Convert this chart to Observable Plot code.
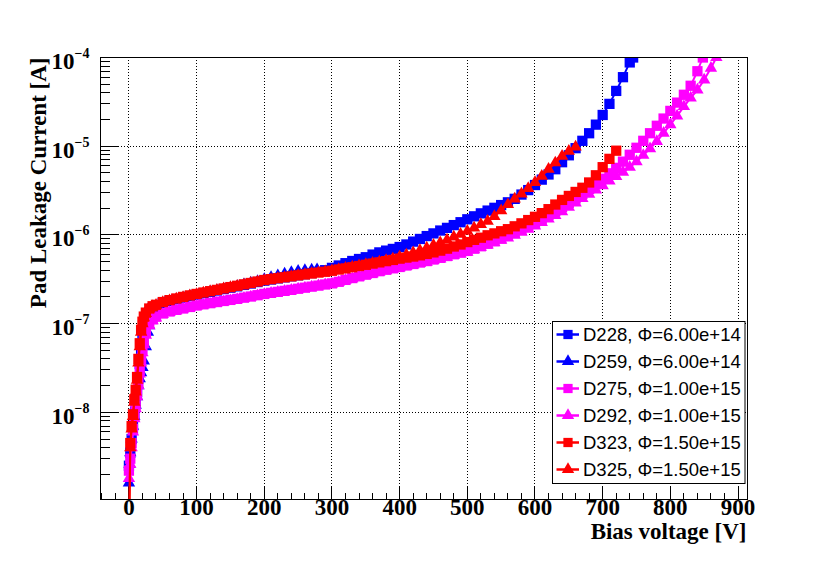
<!DOCTYPE html>
<html>
<head>
<meta charset="utf-8">
<script src="https://cdn.jsdelivr.net/npm/d3@7"></script>
<script src="https://cdn.jsdelivr.net/npm/@observablehq/plot@0.6"></script>
<style>
  html, body { margin: 0; padding: 0; background: #fff; }
  #chart { width: 830px; height: 567px; }
</style>
</head>
<body>
<div id="chart"></div>
<script>
// ---- Data: [bias voltage V, pad leakage current nA] ----
const d228 = [[0,2.5],[2,3.5],[4,5],[6,7],[8,9.5],[10,13],[12,17],[14,24],[16,35],[18,50],[20,70],[22,90],[25,112],[30,135],[35,150],[40,158],[50,170],[60,180],[70,188],[80,196],[90,204],[100,212],[110,220],[120,228],[130,236],[140,245],[150,254],[160,263],[170,273],[180,283],[190,294],[200,305],[210,314],[220,323],[230,332],[240,341],[250,350],[260,360],[270,371],[280,383],[290,400],[300,425],[310,452],[320,480],[330,508],[340,535],[350,560],[360,600],[370,635],[380,665],[390,695],[400,730],[410,780],[420,840],[430,900],[440,970],[450,1040],[460,1120],[470,1200],[480,1290],[490,1390],[500,1500],[510,1620],[520,1750],[530,1880],[540,2020],[550,2170],[560,2330],[570,2550],[580,2850],[590,3200],[600,3650],[610,4200],[620,4800],[630,5500],[640,6600],[650,7900],[660,9500],[670,11500],[680,14000],[690,17500],[700,22500],[710,30000],[720,42000],[730,60000],[740,88000],[745,100000]];
const d259 = [[0,1.6],[1,2.6],[2,3.5],[4,5],[6,7],[8,9],[10,12],[12,15],[14,20],[16,24],[18,28],[20,32],[22,38],[25,55],[28,80],[30,95],[35,125],[40,145],[50,165],[60,176],[70,185],[80,194],[90,202],[100,210],[110,218],[120,226],[130,235],[140,244],[150,253],[160,263],[170,274],[180,287],[190,300],[200,316],[210,332],[220,348],[230,363],[240,377],[250,389],[260,398],[270,404],[278,407]];
const d275 = [[0,2.2],[2,3],[4,4.5],[6,6.5],[8,9],[10,12],[12,16],[14,22],[16,30],[18,40],[20,52],[22,64],[25,80],[30,100],[35,112],[40,120],[50,130],[60,137],[70,143],[80,148],[90,154],[100,160],[110,165],[120,170],[130,175],[140,180],[150,185],[160,190],[170,196],[180,202],[190,209],[200,216],[210,222],[220,228],[230,234],[240,240],[250,247],[260,254],[270,261],[280,268],[290,276],[300,284],[310,296],[320,311],[330,326],[340,341],[350,356],[360,372],[370,390],[380,405],[390,420],[400,435],[410,452],[420,470],[430,488],[440,507],[450,528],[460,552],[470,578],[480,605],[490,632],[500,660],[510,700],[520,745],[530,795],[540,850],[550,910],[560,980],[570,1060],[580,1150],[590,1260],[600,1380],[610,1520],[620,1680],[630,1860],[640,2060],[650,2300],[660,2580],[670,2900],[680,3300],[690,3750],[700,4300],[710,4950],[720,5700],[730,6700],[740,8000],[750,9600],[760,11500],[770,14000],[780,17000],[790,20500],[800,25000],[810,31000],[820,38000],[830,48000],[840,70000],[848,100000]];
const d292 = [[0,1.8],[2,2.6],[4,4],[6,6],[8,8.5],[10,11],[12,15],[14,20],[16,27],[18,36],[20,47],[22,58],[25,74],[30,95],[35,108],[40,116],[50,127],[60,134],[70,140],[80,146],[90,151],[100,157],[110,162],[120,167],[130,172],[140,177],[150,182],[160,188],[170,194],[180,200],[190,207],[200,214],[210,220],[220,226],[230,232],[240,239],[250,246],[260,253],[270,260],[280,267],[290,274],[300,281],[310,294],[320,308],[330,322],[340,336],[350,350],[360,365],[370,381],[380,396],[390,411],[400,426],[410,442],[420,459],[430,476],[440,494],[450,514],[460,536],[470,560],[480,586],[490,612],[500,640],[510,680],[520,725],[530,772],[540,820],[550,870],[560,925],[570,990],[580,1070],[590,1160],[600,1260],[610,1380],[620,1510],[630,1660],[640,1830],[650,2050],[660,2300],[670,2580],[680,2880],[690,3220],[700,3600],[710,4050],[720,4550],[730,5100],[740,5800],[750,6700],[760,7900],[770,9400],[780,11300],[790,14000],[800,17500],[810,22000],[820,28000],[830,35000],[840,43000],[850,56000],[860,76000],[868,100000]];
const d323 = [[0,0.3],[2,4.5],[4,7],[6,9.5],[8,14],[10,18],[12,25],[14,40],[16,60],[18,85],[20,105],[22,120],[25,133],[30,148],[35,157],[40,163],[50,175],[60,184],[70,192],[80,200],[90,208],[100,216],[110,224],[120,232],[130,240],[140,249],[150,258],[160,267],[170,277],[180,287],[190,298],[200,310],[210,317],[220,325],[230,333],[240,341],[250,350],[260,358],[270,367],[280,376],[290,384],[300,394],[310,407],[320,419],[330,432],[340,446],[350,460],[360,475],[370,490],[380,506],[390,522],[400,540],[410,555],[420,570],[430,588],[440,610],[450,635],[460,665],[470,700],[480,740],[490,780],[500,830],[510,880],[520,930],[530,990],[540,1040],[550,1100],[560,1160],[570,1250],[580,1350],[590,1470],[600,1600],[610,1760],[620,1950],[630,2200],[640,2480],[650,2750],[660,3050],[670,3400],[680,3900],[690,4700],[700,5800],[710,7200],[720,8900]];
const d325 = [[0,0.3],[2,4],[4,6.5],[6,9],[8,13],[10,17],[12,23],[14,36],[16,55],[18,80],[20,100],[22,117],[25,130],[30,146],[35,155],[40,161],[50,173],[60,182],[70,190],[80,198],[90,206],[100,214],[110,222],[120,230],[130,238],[140,247],[150,256],[160,265],[170,275],[180,285],[190,296],[200,307],[210,315],[220,323],[230,332],[240,340],[250,349],[260,358],[270,367],[280,376],[290,385],[300,396],[310,409],[320,422],[330,436],[340,450],[350,465],[360,481],[370,497],[380,515],[390,538],[400,565],[410,595],[420,630],[430,670],[440,715],[450,765],[460,820],[470,880],[480,950],[490,1020],[500,1100],[510,1200],[520,1310],[530,1430],[540,1620],[550,1880],[560,2200],[570,2550],[580,2900],[590,3350],[600,3900],[610,4600],[620,5500],[630,6500],[640,7700],[650,8800],[660,9800]];

const seriesNames = ["D228", "D259", "D275", "D292", "D323", "D325"];
const seriesFluence = ["6.00e+14", "6.00e+14", "1.00e+15", "1.00e+15", "1.50e+15", "1.50e+15"];
const seriesColors = ["#0000ff", "#0000ff", "#ff00ff", "#ff00ff", "#ff0000", "#ff0000"];
const seriesSymbols = ["square", "triangle", "square", "triangle", "square", "triangle"];
const seriesData = [d228, d259, d275, d292, d323, d325];

const xTickLabels = [0, 100, 200, 300, 400, 500, 600, 700, 800, 900];
const yTickExponents = [-4, -5, -6, -7, -8];

// ---- Build ----
const W = 830, H = 567;
const mL = 100, mT = 57, mR = 83, mB = 68;
const frameW = W - mL - mR, frameH = H - mT - mB;
const rSquare = 5.8, rTriangle = 4.6;

const series = seriesNames.map((name, k) => ({
  name, phi: seriesFluence[k], color: seriesColors[k], symbol: seriesSymbols[k],
  rows: seriesData[k].map(([V, nA]) => ({ V, I: nA * 1e-9 }))
}));

const xMinor = d3.range(-40, 901, 20).filter(v => v % 100 !== 0);
const yMajor = yTickExponents.map(e => Math.pow(10, e));
const yMinor = [];
for (let e = -9; e <= -5; e++) for (let m = 2; m <= 9; m++) {
  const v = m * Math.pow(10, e);
  if (v >= 1.04e-9 && v <= 1e-4) yMinor.push(v);
}

const serif = "'Liberation Serif', 'Times New Roman', serif";
const sans = "'Liberation Sans', Arial, sans-serif";

const marks = [
  Plot.ruleX(xTickLabels, { x: d => d, stroke: "#000", strokeDasharray: "1,2", strokeWidth: 1, shapeRendering: "crispEdges" }),
  Plot.ruleY(yMajor.slice(1), { y: d => d, stroke: "#000", strokeDasharray: "1,2", strokeWidth: 1, shapeRendering: "crispEdges" }),
  Plot.tickX(xTickLabels, { x: d => d, stroke: "#000", insetTop: frameH - 13, shapeRendering: "crispEdges" }),
  Plot.tickX(xMinor, { x: d => d, stroke: "#000", insetTop: frameH - 6.5, shapeRendering: "crispEdges" }),
  Plot.tickY(yMajor, { y: d => d, stroke: "#000", insetRight: frameW - 19, shapeRendering: "crispEdges" }),
  Plot.tickY(yMinor, { y: d => d, stroke: "#000", insetRight: frameW - 9.5, shapeRendering: "crispEdges" }),
];

for (const s of series) {
  marks.push(Plot.line(s.rows, { x: "V", y: "I", stroke: s.color, strokeWidth: 2, clip: true }));
  marks.push(Plot.dot(s.rows, {
    x: "V", y: "I", symbol: s.symbol, fill: s.color, stroke: "none",
    r: s.symbol === "square" ? rSquare : rTriangle, clip: true
  }));
}

marks.push(
  Plot.frame({ stroke: "#000", strokeWidth: 1, shapeRendering: "crispEdges" }),
  Plot.text(xTickLabels, {
    x: d => d, frameAnchor: "bottom", dy: 15, text: d => String(d),
    fontSize: 23, fontWeight: "bold", fontFamily: serif, fill: "#000"
  }),
  Plot.text(yMajor, {
    y: d => d, frameAnchor: "left", dx: -26, dy: 4, text: () => "10",
    textAnchor: "end", fontSize: 23, fontWeight: "bold", fontFamily: serif, fill: "#000"
  }),
  Plot.text(yMajor, {
    y: d => d, frameAnchor: "left", dx: -26, dy: -4, text: d => "\u2212" + Math.round(-Math.log10(d)),
    textAnchor: "start", fontSize: 14, fontWeight: "bold", fontFamily: serif, fill: "#000"
  }),
  Plot.text(["Bias voltage [V]"], {
    frameAnchor: "bottom-right", dx: -1, dy: 39, text: d => d, textAnchor: "end",
    fontSize: 23, fontWeight: "bold", fontFamily: serif, fill: "#000"
  }),
  Plot.text(["Pad Leakage Current [A]"], {
    frameAnchor: "top-left", dx: -71, dy: 0, text: d => d, textAnchor: "end", rotate: -90,
    fontSize: 23, fontWeight: "bold", fontFamily: serif, fill: "#000"
  })
);

const chart = Plot.plot({
  width: W, height: H,
  marginLeft: mL, marginTop: mT, marginRight: mR, marginBottom: mB,
  style: { background: "#fff", overflow: "visible" },
  x: { domain: [-42, 914], axis: null },
  y: { type: "log", domain: [1.04e-9, 1e-4], axis: null },
  marks
});

// ---- Legend (inside the frame, lower right) ----
const svg = d3.select(chart);
const lg = svg.append("g").attr("class", "legend").attr("text-anchor", "start");
lg.append("rect").attr("x", 552.5).attr("y", 321.5).attr("width", 192.5).attr("height", 162)
  .attr("fill", "#fff").attr("stroke", "#000").attr("stroke-width", 1);
series.forEach((s, k) => {
  const cy = 334.5 + k * 27;
  lg.append("line").attr("x1", 556.5).attr("x2", 579).attr("y1", cy).attr("y2", cy)
    .attr("stroke", s.color).attr("stroke-width", 2.5);
  const sym = s.symbol === "square" ? d3.symbolSquare : d3.symbolTriangle;
  const rr = s.symbol === "square" ? rSquare * 0.9 : rTriangle;
  lg.append("path").attr("d", d3.symbol(sym, Math.PI * rr * rr)()).attr("transform", `translate(568,${cy})`)
    .attr("fill", s.color);
  lg.append("text").attr("x", 583).attr("y", cy).attr("dy", "0.36em")
    .attr("text-anchor", "start")
    .attr("font-family", sans).attr("font-size", 18.5).attr("fill", "#000")
    .text(`${s.name}, \u03A6=${s.phi}`);
});

document.getElementById("chart").appendChild(chart);
</script>
</body>
</html>
